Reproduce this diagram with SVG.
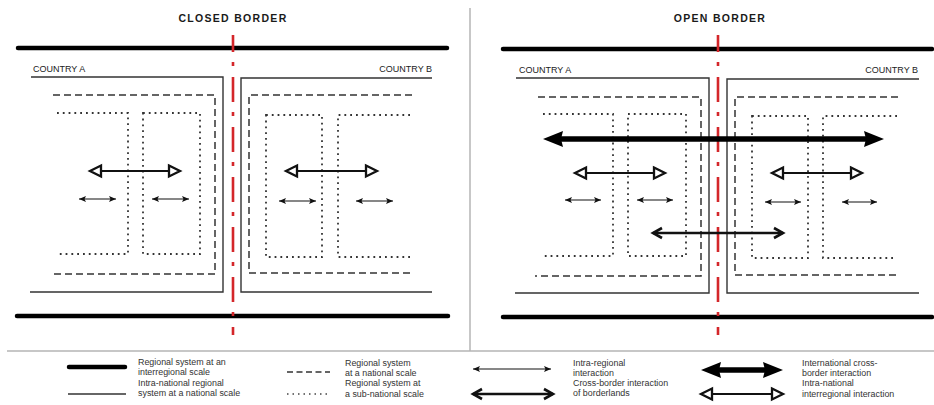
<svg xmlns="http://www.w3.org/2000/svg" width="934" height="405" viewBox="0 0 934 405">
<style>
  text { font-family: "Liberation Sans", Arial, sans-serif; fill: #222; }
  .title { font-size: 10.5px; font-weight: bold; letter-spacing: 1.3px; text-anchor: middle; fill: #1a1a1a; }
  .country { font-size: 9px; fill: #222; }
  .leg { font-size: 8.9px; fill: #333; }
  .thick { stroke: #000; stroke-width: 4.5; fill: none; stroke-linecap: round; }
  .solid { stroke: #333; stroke-width: 1.4; fill: none; }
  .dash { stroke: #333; stroke-width: 1.5; fill: none; stroke-dasharray: 7 4; }
  .dot { stroke: #333; stroke-width: 1.8; fill: none; stroke-dasharray: 1.8 4; }
  .red { stroke: #d4262a; stroke-width: 2.6; fill: none; stroke-dasharray: 25 10 4 11; stroke-dashoffset: 8; }
  .a-sm { stroke: #111; stroke-width: 1.2; fill: none; marker-start: url(#m-sm); marker-end: url(#m-sm); }
  .a-op { stroke: #111; stroke-width: 2.2; fill: none; marker-start: url(#m-op); marker-end: url(#m-op); }
  .a-big { stroke: #000; stroke-width: 5.5; fill: none; marker-start: url(#m-big); marker-end: url(#m-big); }
  .a-ch { stroke: #111; stroke-width: 2.6; fill: none; marker-start: url(#m-ch); marker-end: url(#m-ch); }
  .sep { stroke: #b5b5b5; stroke-width: 1.5; fill: none; }
</style>
<defs>
  <marker id="m-sm" markerUnits="userSpaceOnUse" markerWidth="8" markerHeight="6" refX="7" refY="3" orient="auto-start-reverse" overflow="visible">
    <path d="M0,0 L7,3 L0,6 L1.5,3 Z" fill="#111"/>
  </marker>
  <marker id="m-op" markerUnits="userSpaceOnUse" markerWidth="12" markerHeight="12" refX="11" refY="5.5" orient="auto-start-reverse" overflow="visible">
    <path d="M0,0 L11,5.5 L0,11 Z" fill="#fff" stroke="#111" stroke-width="2.3" stroke-linejoin="miter"/>
  </marker>
  <marker id="m-big" markerUnits="userSpaceOnUse" markerWidth="20" markerHeight="16" refX="6" refY="8" orient="auto-start-reverse" overflow="visible">
    <path d="M0,0 L20,8 L0,16 L2,8 Z" fill="#000"/>
  </marker>
  <marker id="m-ch" markerUnits="userSpaceOnUse" markerWidth="10" markerHeight="10" refX="9" refY="5" orient="auto-start-reverse" overflow="visible">
    <path d="M0,0 L9,5 L0,10" fill="none" stroke="#111" stroke-width="2.6" stroke-linejoin="miter"/>
  </marker>
</defs>
<rect width="934" height="405" fill="#fff"/>

<!-- separators -->
<g id="separators">
  <line class="sep" x1="470" y1="8" x2="470" y2="351"/>
  <line class="sep" x1="7" y1="351" x2="934" y2="351"/>
</g>

<!-- CLOSED BORDER panel -->
<g id="closed-border">
  <text class="title" x="233" y="22">CLOSED BORDER</text>
  <line class="thick" x1="18" y1="48" x2="447" y2="48"/>
  <line class="thick" x1="17" y1="316" x2="448" y2="316"/>
  <text class="country" x="33" y="72">COUNTRY A</text>
  <text class="country" x="432" y="72" text-anchor="end">COUNTRY B</text>
  <g id="closed-country-a">
    <path class="solid" d="M31,77 H223 V292 H30"/>
    <path class="dash" d="M53,95 H215 V274 H50"/>
    <path class="dot" d="M57,113 H128 V254 H56"/>
    <path class="dot" d="M143,113 H200 V254 H143 Z"/>
  </g>
  <g id="closed-country-b">
    <path class="solid" d="M432,78 H241 V292 H432"/>
    <path class="dash" d="M412,95 H249 V273 H412"/>
    <path class="dot" d="M266,115 H322 V257 H266 Z"/>
    <path class="dot" d="M410,115 H338 V257 H410"/>
  </g>
  <line class="red" x1="233" y1="35" x2="233" y2="335"/>
  <g id="closed-connectors">
    <line class="a-op" x1="90" y1="171" x2="180" y2="171"/>
    <line class="a-op" x1="286" y1="171" x2="377" y2="171"/>
    <line class="a-sm" x1="79" y1="199" x2="116" y2="199"/>
    <line class="a-sm" x1="152" y1="199" x2="189" y2="199"/>
    <line class="a-sm" x1="279" y1="201" x2="316" y2="201"/>
    <line class="a-sm" x1="356" y1="201" x2="393" y2="201"/>
  </g>
</g>

<!-- OPEN BORDER panel -->
<g id="open-border">
  <text class="title" x="720" y="22">OPEN BORDER</text>
  <line class="thick" x1="503" y1="49" x2="932" y2="49"/>
  <line class="thick" x1="503" y1="317" x2="932" y2="317"/>
  <text class="country" x="519" y="73">COUNTRY A</text>
  <text class="country" x="918" y="73" text-anchor="end">COUNTRY B</text>
  <g id="open-country-a">
    <path class="solid" d="M516,78 H709 V293 H515"/>
    <path class="dash" d="M538,97 H701 V276 H535"/>
    <path class="dot" d="M543,114 H613 V256 H541"/>
    <path class="dot" d="M628,114 H686 V256 H628 Z"/>
  </g>
  <g id="open-country-b">
    <path class="solid" d="M919,79 H727 V293 H919"/>
    <path class="dash" d="M898,97 H735 V275 H898"/>
    <path class="dot" d="M752,116 H808 V258 H752 Z"/>
    <path class="dot" d="M897,116 H823 V258 H897"/>
  </g>
  <line class="red" x1="718" y1="35" x2="718" y2="335"/>
  <g id="open-connectors">
    <line class="a-big" x1="557" y1="139" x2="870" y2="139"/>
    <line class="a-op" x1="575" y1="173" x2="665" y2="173"/>
    <line class="a-op" x1="772" y1="173" x2="862" y2="173"/>
    <line class="a-sm" x1="565" y1="200" x2="601" y2="200"/>
    <line class="a-sm" x1="637" y1="200" x2="673" y2="200"/>
    <line class="a-sm" x1="765" y1="202" x2="801" y2="202"/>
    <line class="a-sm" x1="842" y1="202" x2="877" y2="202"/>
    <line class="a-ch" x1="653" y1="233" x2="783" y2="233"/>
  </g>
</g>

<!-- LEGEND -->
<g id="legend">
  <g id="leg-interregional">
    <line stroke="#000" stroke-width="4.5" stroke-linecap="round" x1="69" y1="367" x2="125" y2="367"/>
    <text class="leg" x="138" y="365">Regional system at an</text>
    <text class="leg" x="138" y="375">interregional scale</text>
  </g>
  <g id="leg-intranational">
    <line class="solid" x1="68" y1="394" x2="126" y2="394"/>
    <text class="leg" x="138" y="386">Intra-national regional</text>
    <text class="leg" x="138" y="396">system at a national scale</text>
  </g>
  <g id="leg-national">
    <line stroke="#333" stroke-width="1.5" stroke-dasharray="6 3.5" x1="287" y1="372" x2="330" y2="372"/>
    <text class="leg" x="345" y="366">Regional system</text>
    <text class="leg" x="345" y="376">at a national scale</text>
  </g>
  <g id="leg-subnational">
    <line stroke="#444" stroke-width="1.5" stroke-dasharray="1.5 4" x1="287" y1="394" x2="330" y2="394"/>
    <text class="leg" x="345" y="386">Regional system at</text>
    <text class="leg" x="345" y="397">a sub-national scale</text>
  </g>
  <g id="leg-intraregional">
    <line class="a-sm" x1="473" y1="369" x2="551" y2="369"/>
    <text class="leg" x="573" y="366">Intra-regional</text>
    <text class="leg" x="573" y="376">interaction</text>
  </g>
  <g id="leg-crossborder">
    <line class="a-ch" x1="473" y1="394" x2="553" y2="394"/>
    <text class="leg" x="573" y="386">Cross-border interaction</text>
    <text class="leg" x="573" y="396">of borderlands</text>
  </g>
  <g id="leg-international">
    <line class="a-big" x1="715" y1="370" x2="769" y2="370"/>
    <text class="leg" x="802" y="366">International cross-</text>
    <text class="leg" x="802" y="376">border interaction</text>
  </g>
  <g id="leg-intranational-inter">
    <line class="a-op" x1="701" y1="394" x2="783" y2="394"/>
    <text class="leg" x="802" y="386">Intra-national</text>
    <text class="leg" x="802" y="397">interregional interaction</text>
  </g>
</g>
</svg>
